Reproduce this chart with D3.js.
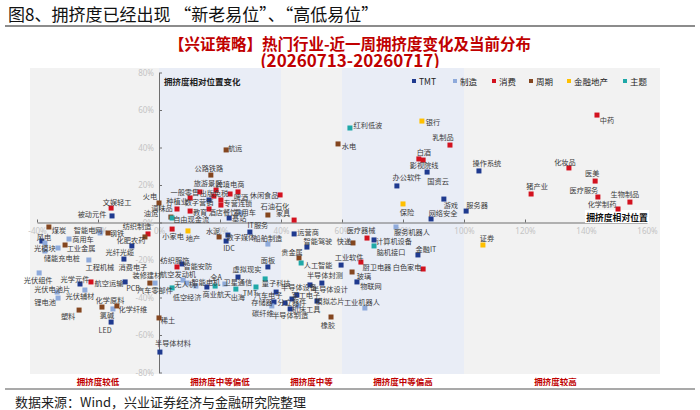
<!DOCTYPE html>
<html>
<head>
<meta charset="utf-8">
<script src="https://cdn.jsdelivr.net/npm/d3@7"></script>
<style>
  body { margin: 0; background: #fff; }
  svg { display: block; }
  text { font-family: "Noto Sans CJK SC", "Noto Sans", sans-serif; }
</style>
</head>
<body>
<div id="chart"></div>
<script>
// x: 拥挤度相对位置 (%), y: 拥挤度相对位置变化 (%)
const tmt = [
  ["被动元件", -15.4, 3.5], ["光模块", -38.4, -9.9], ["光纤光缆", -8.9, -12.5],
  ["消费电子", -11.5, -19.5], ["光学元件", -25.9, -32.8], ["PCB", -11.1, -31.7],
  ["LED", -15.7, -53.1], ["半导体材料", 0.3, -69.1], ["数字营销", 16.4, 12],
  ["基站", 23, 2.4], ["数字媒体", 22.6, -6.7], ["IDC", 22, -9.9],
  ["IT服务", 29.8, -5.1], ["运营商", 44.3, -6.1], ["智能驾驶", 48.5, -13.1],
  ["半导体封测", 53.4, -32.3], ["面板", 35.7, -23.7], ["智能安防", 7.5, -22.1],
  ["商业航天", 15.7, -34.4], ["虚拟现实", 25.9, -29.1], ["汽车电子", 38.4, -37.1],
  ["存储器", 37.7, -42.4], ["半导体设备", 43.6, -40.8], ["半导体设计", 49.5, -33.3],
  ["军工电子", 45.2, -38.7], ["模拟芯片", 51.8, -41.9], ["分立器件", 41.3, -42.9],
  ["半导体制造", 43, -46.1], ["物联网", 64.9, -31.7], ["计算机设备", 70.5, -9.3],
  ["金融IT", 84.9, -17.3], ["工业软件", 59.7, -22.7], ["网络安全", 89.2, 1.9],
  ["服务器", 100.7, 6.1], ["操作系统", 104.9, 27.5], ["游戏", 93.4, 12.5],
  ["国资云", 87.9, 26.9], ["办公软件", 78, 19.5]
];
const zhizao = [
  ["智能电网", -19.3, -5.6], ["风电", -37.4, -10.9], ["商用车", -29.5, -8.8],
  ["充电桩", -33.1, -13.6], ["储能", -37.4, -15.2], ["工程机械", -23, -20],
  ["光伏组件", -39.3, -26.9], ["光伏电池片", -33.4, -37.1], ["光伏辅材", -24.3, -36],
  ["锂电池", -33.1, -40.3], ["氯碱", -15.1, -46.1], ["汽车零部件", -1.3, -32.3],
  ["乘用车", 26.9, 5.1], ["船舶制造", 35.7, -11.5], ["航空发动机", 7.9, -30.7],
  ["无人机", 9.2, -32.3], ["智能电机", 12.1, -33.9], ["卫星通信", 21.6, -32.8],
  ["服务机器人", 77.7, -2.4], ["工业机器人", 67.5, -45.6], ["机床工具", 45.6, -44.5],
  ["碳纤维", 37, -44.5]
];
const xiaofei = [
  ["文娱轻工", -15.7, 7.7], ["纺织制造", -3.6, -6.1], ["航空运输", -22.3, -31.7],
  ["旅游景区", 18.7, 17.3], ["一般零售", 13.4, 16.3], ["跨境电商", 23.3, 15.2],
  ["啤酒", 25.9, 16.3], ["免税", 20.3, 12], ["种植业", 10.2, 13.1],
  ["专营连锁", 20.3, 9.3], ["调味品", 5.9, 7.2], ["教育", 10.2, 6.1],
  ["酒店餐饮", 16.4, 7.2], ["出版", 18, 14.1], ["休闲食品", 39.7, 14.7],
  ["家具", 44.3, 1.3], ["小家电", 4.3, -3.5], ["纺织服饰", 5.9, -23.7],
  ["医疗器械", 68.2, -8.3], ["厨卫电器", 66.2, -21.1], ["白色家电", 86.6, -24.8],
  ["乳制品", 95.4, 41.3], ["白酒", 85.2, 33.9], ["影视院线", 86.6, 33.3],
  ["中药", 143.6, 57.3], ["化妆品", 134.4, 29.1], ["医美", 143, 22.1],
  ["医疗服务", 143.9, 13.6], ["生物制品", 154.4, 10.9], ["化学制药", 150.5, 7.2],
  ["猪产业", 122, 15.2]
];
const zhouqi = [
  ["火电", 0, 10.4], ["煤炭", -36.1, -2.4], ["钢铁", -16.7, -5.6],
  ["化肥农药", -4.6, -7.7], ["工业金属", -30.8, -12], ["装修建材", -3, -32.3],
  ["化学原料", -18.7, -45.1], ["化学纤维", -13.8, -44.5], ["塑料", -26.2, -46.7],
  ["稀土", 0, -50.9], ["航运", 22, 38.7], ["公路铁路", 17, 25.3],
  ["石油石化", 35.7, 4], ["油运", 3.9, 2.9], ["水泥", 19.7, -7.7],
  ["贵金属", 45.9, -18.9], ["橡胶", 56.4, -50.4], ["水电", 58.7, 41.9],
  ["快递", 63.6, -10.9], ["玻璃", 63.3, -26.4]
];
const jinrong = [
  ["地产", 9.5, -4.5], ["银行", 86.2, 54.1], ["保险", 80, 9.9], ["证券", 106.2, -12]
];
const zhuti = [
  ["自由现金流", 4.3, 2.4], ["红利低波", 62.6, 50.4], ["人工智能", 46.6, -21.6],
  ["低空经济", 4.3, -34.9], ["全A", 18.4, -33.9], ["出海", 25.2, -35.5],
  ["TMT", 31.8, -34.4], ["量子科技", 34.8, -30.1], ["脑机接口", 70.5, -12.5]
];

const groupNames = ["TMT", "制造", "消费", "周期", "金融地产", "主题"];
const groupData = [tmt, zhizao, xiaofei, zhouqi, jinrong, zhuti];
const xTicks = [-40, -20, 0, 20, 40, 60, 80, 100, 120, 140, 160];
const yTicks = [-80, -60, -40, -20, 0, 20, 40, 60, 80];
const bandEdges = [-40, 0, 40, 60, 100, 160];
const bandNames = ["拥挤度较低", "拥挤度中等偏低", "拥挤度中等", "拥挤度中等偏高", "拥挤度较高"];

// styles
const colors = ["#1f3a8f", "#8eaadb", "#d3121f", "#84461f", "#ffc000", "#1fa8a8"];

// label centre offsets (px) from each marker
const labelOffset = {
  "被动元件": [-20, -2], "光模块": [3, 7], "光纤光缆": [-12, 6], "消费电子": [9, 8],
  "光学元件": [-5, -5], "PCB": [8, 6], "LED": [-6, 8], "半导体材料": [13, -9],
  "数字营销": [-10, 2], "基站": [10, 0], "数字媒体": [13, 2], "IDC": [3, 7],
  "IT服务": [8, -7], "运营商": [14, -2], "智能驾驶": [11, -6], "半导体封测": [3, -8],
  "面板": [0, -7], "智能安防": [16, 2], "商业航天": [10, 7], "虚拟现实": [9, -8],
  "汽车电子": [-8, 3], "存储器": [-12, 0], "半导体设备": [7, -12], "半导体设计": [20, 4],
  "军工电子": [9, 0], "模拟芯片": [13, 0], "分立器件": [7, -1], "半导体制造": [0, 6],
  "物联网": [14, 4], "计算机设备": [20, 1], "金融IT": [8, -6], "工业软件": [8, -8],
  "网络安全": [12, -6], "服务器": [11, -6], "操作系统": [8, -8], "游戏": [7, 6],
  "国资云": [11, 9], "办公软件": [10, -9],
  "智能电网": [-12, -3], "风电": [-1, -6], "商用车": [14, 0], "充电桩": [11, 10],
  "储能": [6, 7], "工程机械": [11, 7], "光伏组件": [-1, 7], "光伏电池片": [-5, -3],
  "光伏辅材": [-5, 6], "锂电池": [-13, 4], "氯碱": [-6, 6], "汽车零部件": [0, 7],
  "乘用车": [4, -1], "船舶制造": [0, -6], "航空发动机": [-5, -6], "无人机": [-2, 1],
  "智能电机": [10, -4], "卫星通信": [13, -2], "服务机器人": [16, 5], "工业机器人": [-3, -6],
  "机床工具": [8, 3], "碳纤维": [-9, 7],
  "文娱轻工": [6, -6], "纺织制造": [-11, -8], "航空运输": [18, 1], "旅游景区": [-8, -7],
  "一般零售": [-15, 0], "跨境电商": [0, -10], "啤酒": [3, 5], "免税": [0, -7],
  "种植业": [-13, 3], "专营连锁": [17, -2], "调味品": [-15, -1], "教育": [10, 1],
  "酒店餐饮": [14, 3], "出版": [-7, -3], "休闲食品": [-16, 0], "家具": [-11, -7],
  "小家电": [1, 7], "纺织服饰": [-2, -7], "医疗器械": [-6, -8], "厨卫电器": [16, 5],
  "白色家电": [-16, -2], "乳制品": [-7, -8], "白酒": [5, -7], "影视院线": [1, 5],
  "中药": [10, 5], "化妆品": [-4, -6], "医美": [-3, -8], "医疗服务": [-14, -7],
  "生物制品": [-5, -8], "化学制药": [-16, -5], "猪产业": [6, -8],
  "火电": [-9, -7], "煤炭": [10, 3], "钢铁": [9, 0], "化肥农药": [-14, 3],
  "工业金属": [16, 3], "装修建材": [-3, -8], "化学原料": [8, -7], "化学纤维": [16, 3],
  "塑料": [-11, 6], "稀土": [9, 2], "航运": [9, -2], "公路铁路": [-2, -7],
  "石油石化": [7, -9], "油运": [-20, -4], "水泥": [-6, -6], "贵金属": [-7, -6],
  "橡胶": [-3, 8], "水电": [11, 2], "快递": [-9, -2], "玻璃": [12, 4],
  "地产": [5, 7], "银行": [11, 1], "保险": [4, 8], "证券": [4, -7],
  "自由现金流": [19, 1], "红利低波": [18, -3], "人工智能": [17, 2], "低空经济": [15, 9],
  "全A": [1, -9], "出海": [2, 8], "TMT": [-6, 6], "量子科技": [11, 4], "脑机接口": [17, 6]
};

const width = 700, height = 410;

const svg = d3.select("#chart")
  .append("svg")
  .attr("width", width)
  .attr("height", height);

// header
svg.append("text")
  .attr("x", 8).attr("y", 13)
  .attr("dominant-baseline", "central")
  .attr("font-size", 17)
  .attr("fill", "#111")
  .text("图8、拥挤度已经出现 “新老易位”、“高低易位”");

svg.append("line")
  .attr("x1", 5).attr("x2", 695).attr("y1", 26).attr("y2", 26)
  .attr("stroke", "#8c8c8c").attr("stroke-width", 2);

svg.append("text")
  .attr("x", 350).attr("y", 43)
  .attr("text-anchor", "middle").attr("dominant-baseline", "central")
  .attr("font-size", 15.5).attr("font-weight", "bold").attr("fill", "#c00000")
  .text("【兴证策略】热门行业-近一周拥挤度变化及当前分布");

svg.append("text")
  .attr("x", 350).attr("y", 59)
  .attr("text-anchor", "middle").attr("dominant-baseline", "central")
  .attr("font-size", 17).attr("font-weight", "bold").attr("fill", "#c00000")
  .text("(20260713-20260717)");

// scales
const x = d3.scaleLinear().domain([-40, 160]).range([37, 647]);
const y = d3.scaleLinear().domain([-80, 80]).range([372.5, 72.5]);

// plot background and bands
svg.append("rect")
  .attr("x", 30).attr("y", 68).attr("width", 630).attr("height", 306)
  .attr("fill", "#f2f2f2");

svg.selectAll(".band")
  .data(d3.range(bandNames.length).filter(i => i % 2 === 1))
  .enter()
  .append("rect")
  .attr("class", "band")
  .attr("x", i => x(bandEdges[i]))
  .attr("width", i => x(bandEdges[i + 1]) - x(bandEdges[i]))
  .attr("y", 68).attr("height", 306)
  .attr("fill", "#e9edf6");

// axes
const xAxis = svg.append("g")
  .attr("transform", `translate(0,${y(0)})`)
  .call(d3.axisBottom(x).tickValues(xTicks).tickFormat(d => d + "%")
    .tickSizeInner(-3).tickSizeOuter(0).tickPadding(6));

const yAxis = svg.append("g")
  .attr("transform", `translate(${x(0)},0)`)
  .call(d3.axisLeft(y).tickValues(yTicks).tickFormat(d => d + "%")
    .tickSizeInner(-3).tickSizeOuter(0).tickPadding(5));

[xAxis, yAxis].forEach(g => {
  g.select(".domain").attr("stroke", "#6f6f6f");
  g.selectAll(".tick line").attr("stroke", "#6f6f6f");
  g.selectAll(".tick text")
    .attr("fill", "#c4c4c4")
    .attr("font-size", 8)
    .style("font-family", "\"Noto Sans\", sans-serif");
});

// axis titles
svg.append("text")
  .attr("x", 164).attr("y", 81)
  .attr("dominant-baseline", "central")
  .attr("font-size", 8.5).attr("font-weight", "bold").attr("fill", "#222")
  .text("拥挤度相对位置变化");

const xTitle = svg.append("g");
xTitle.append("rect")
  .attr("x", 585).attr("y", 210).attr("width", 64).attr("height", 13)
  .attr("fill", "#fff");
xTitle.append("text")
  .attr("x", 617).attr("y", 217)
  .attr("text-anchor", "middle").attr("dominant-baseline", "central")
  .attr("font-size", 8.8).attr("font-weight", "bold").attr("fill", "#111")
  .text("拥挤度相对位置");

// legend
const legendX = [414, 455, 494, 531, 569, 625];
const legend = svg.selectAll(".legend")
  .data(groupNames)
  .enter()
  .append("g")
  .attr("class", "legend")
  .attr("transform", (d, i) => `translate(${legendX[i]},81)`);

legend.append("rect")
  .attr("x", -2).attr("y", -2).attr("width", 4).attr("height", 4)
  .attr("fill", (d, i) => colors[i]);

legend.append("text")
  .attr("x", 5).attr("y", 0)
  .attr("dominant-baseline", "central")
  .attr("font-size", 8.5).attr("fill", "#222")
  .text(d => d);

// points
const points = groupData.flatMap((arr, g) =>
  arr.map(d => ({ name: d[0], x: d[1], y: d[2], group: g })));

svg.selectAll(".pt")
  .data(points)
  .enter()
  .append("rect")
  .attr("class", "pt")
  .attr("x", d => x(d.x) - 2.5)
  .attr("y", d => y(d.y) - 2.5)
  .attr("width", 5).attr("height", 5)
  .attr("fill", d => colors[d.group]);

svg.selectAll(".pt-label")
  .data(points)
  .enter()
  .append("text")
  .attr("class", "pt-label")
  .attr("x", d => x(d.x) + (labelOffset[d.name] || [0, -7])[0])
  .attr("y", d => y(d.y) + (labelOffset[d.name] || [0, -7])[1])
  .attr("text-anchor", "middle")
  .attr("dominant-baseline", "central")
  .attr("font-size", 7.2)
  .attr("fill", "#3a3a3a")
  .text(d => d.name);

// crowding zone names under the plot
svg.selectAll(".zone")
  .data(bandNames)
  .enter()
  .append("text")
  .attr("class", "zone")
  .attr("x", (d, i) => (x(bandEdges[i]) + x(bandEdges[i + 1])) / 2)
  .attr("y", 381)
  .attr("text-anchor", "middle").attr("dominant-baseline", "central")
  .attr("font-size", 8.5).attr("font-weight", "bold").attr("fill", "#c00000")
  .text(d => d);

// footer
svg.append("line")
  .attr("x1", 5).attr("x2", 695).attr("y1", 389).attr("y2", 389)
  .attr("stroke", "#8c8c8c").attr("stroke-width", 1.5);

svg.append("text")
  .attr("x", 15).attr("y", 401)
  .attr("dominant-baseline", "central")
  .attr("font-size", 13).attr("fill", "#222")
  .text("数据来源：Wind，兴业证券经济与金融研究院整理");
</script>
</body>
</html>
